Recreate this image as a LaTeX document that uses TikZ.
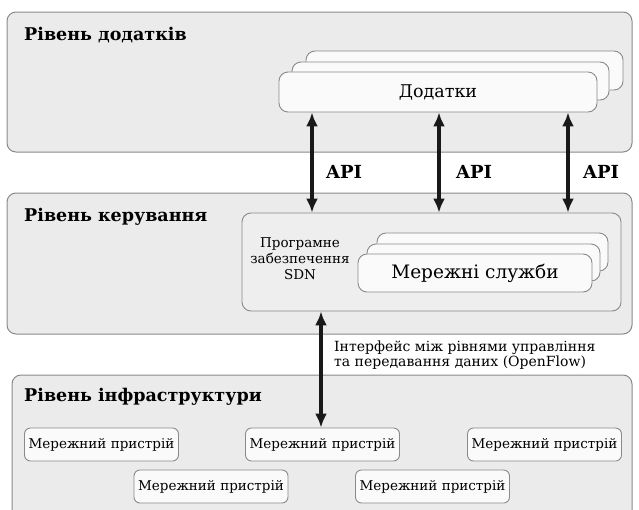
\documentclass[tikz,border=0pt]{standalone}
\usepackage{fontspec}
\setmainfont{DejaVu Serif}
\usetikzlibrary{arrows.meta}
\definecolor{layerfill}{HTML}{EBEBEB}
\definecolor{layerdraw}{HTML}{8A8A8A}
\definecolor{sdnfill}{HTML}{EEEEEE}
\definecolor{boxfill}{HTML}{FAFAFA}
\tikzset{
  layer/.style={draw=layerdraw, fill=layerfill, line width=1pt, rounded corners=9pt, inner sep=0pt},
  stackbox/.style={draw=layerdraw, fill=boxfill, line width=0.9pt, rounded corners=9pt, inner sep=0pt},
  sdnbox/.style={draw=layerdraw, fill=sdnfill, line width=0.9pt, rounded corners=9pt, inner sep=0pt},
  devbox/.style={draw=layerdraw, fill=boxfill, line width=0.9pt, rounded corners=6pt, inner sep=0pt,
     minimum width=154pt, minimum height=33pt, font=\fontsize{13.5}{15}\selectfont},
  heading/.style={anchor=west, inner sep=0pt, font=\bfseries\fontsize{17.5}{20}\selectfont},
  apilabel/.style={inner sep=0pt, font=\bfseries\fontsize{18}{20}\selectfont},
  dblarrow/.style={line width=3.2pt, draw=black!90, {Latex[length=14pt,width=12pt]}-{Latex[length=14pt,width=12pt]}}
}
\begin{document}
\begin{tikzpicture}[x=1pt,y=-1pt]
\useasboundingbox (0,0) rectangle (639,509);
% layers
\node[layer, minimum width=625pt, minimum height=140pt] (applayer) at (319.5,82) {};
\node[layer, minimum width=625pt, minimum height=141pt] (ctrllayer) at (319.5,263.5) {};
\node[layer, minimum width=620pt, minimum height=150pt] (infralayer) at (322,450) {};
\node[heading] (apph) at (24,35) {Рівень додатків};
\node[heading] (ctrlh) at (24,217) {Рівень керування};
\node[heading] (infrah) at (24,397) {Рівень інфраструктури};
% applications stack
\node[stackbox, minimum width=317pt, minimum height=39pt] (appc) at (464.5,70.5) {};
\node[stackbox, minimum width=317pt, minimum height=38pt] (appb) at (450.5,81) {};
\node[stackbox, minimum width=318pt, minimum height=40pt, font=\fontsize{17.5}{20}\selectfont] (appa) at (438,92) {Додатки};
% SDN box
\node[sdnbox, minimum width=379pt, minimum height=98pt] (sdn) at (431.5,262) {};
\node[inner sep=0pt, align=center, font=\fontsize{13.5}{16}\selectfont] (sdnt) at (300,259) {Програмне\\забезпечення\\SDN};
\node[stackbox, minimum width=231pt, minimum height=38pt] (svcc) at (492.5,252) {};
\node[stackbox, minimum width=233pt, minimum height=37pt] (svcb) at (483.5,262.5) {};
\node[stackbox, minimum width=234pt, minimum height=38pt, font=\fontsize{18.5}{21}\selectfont] (svca) at (475,273) {Мережні служби};
% API arrows
\coordinate (xa) at (312,0);
\coordinate (xb) at (439,0);
\coordinate (xc) at (568,0);
\draw[dblarrow] (appa.south -| xa) -- (sdn.north -| xa);
\draw[dblarrow] (appa.south -| xb) -- (sdn.north -| xb);
\draw[dblarrow] (appa.south -| xc) -- (sdn.north -| xc);
\node[apilabel] (api1) at (344,172) {API};
\node[apilabel] (api2) at (474,172) {API};
\node[apilabel] (api3) at (601,172) {API};
% devices
\node[devbox] (d1) at (101.5,444.5) {Мережний пристрій};
\node[devbox] (d2) at (322.5,444.5) {Мережний пристрій};
\node[devbox] (d3) at (544.5,444.5) {Мережний пристрій};
\node[devbox] (d4) at (211,486.5) {Мережний пристрій};
\node[devbox] (d5) at (432.5,486.5) {Мережний пристрій};
% OpenFlow arrow
\coordinate (xo) at (321,0);
\draw[dblarrow] (sdn.south -| xo) -- (d2.north -| xo);
\node[anchor=north west, inner sep=0pt, align=left, font=\fontsize{14}{13.5}\selectfont] (ofl) at (334,341) {Інтерфейс між рівнями управління\\та передавання даних (OpenFlow)};
\end{tikzpicture}
\end{document}
